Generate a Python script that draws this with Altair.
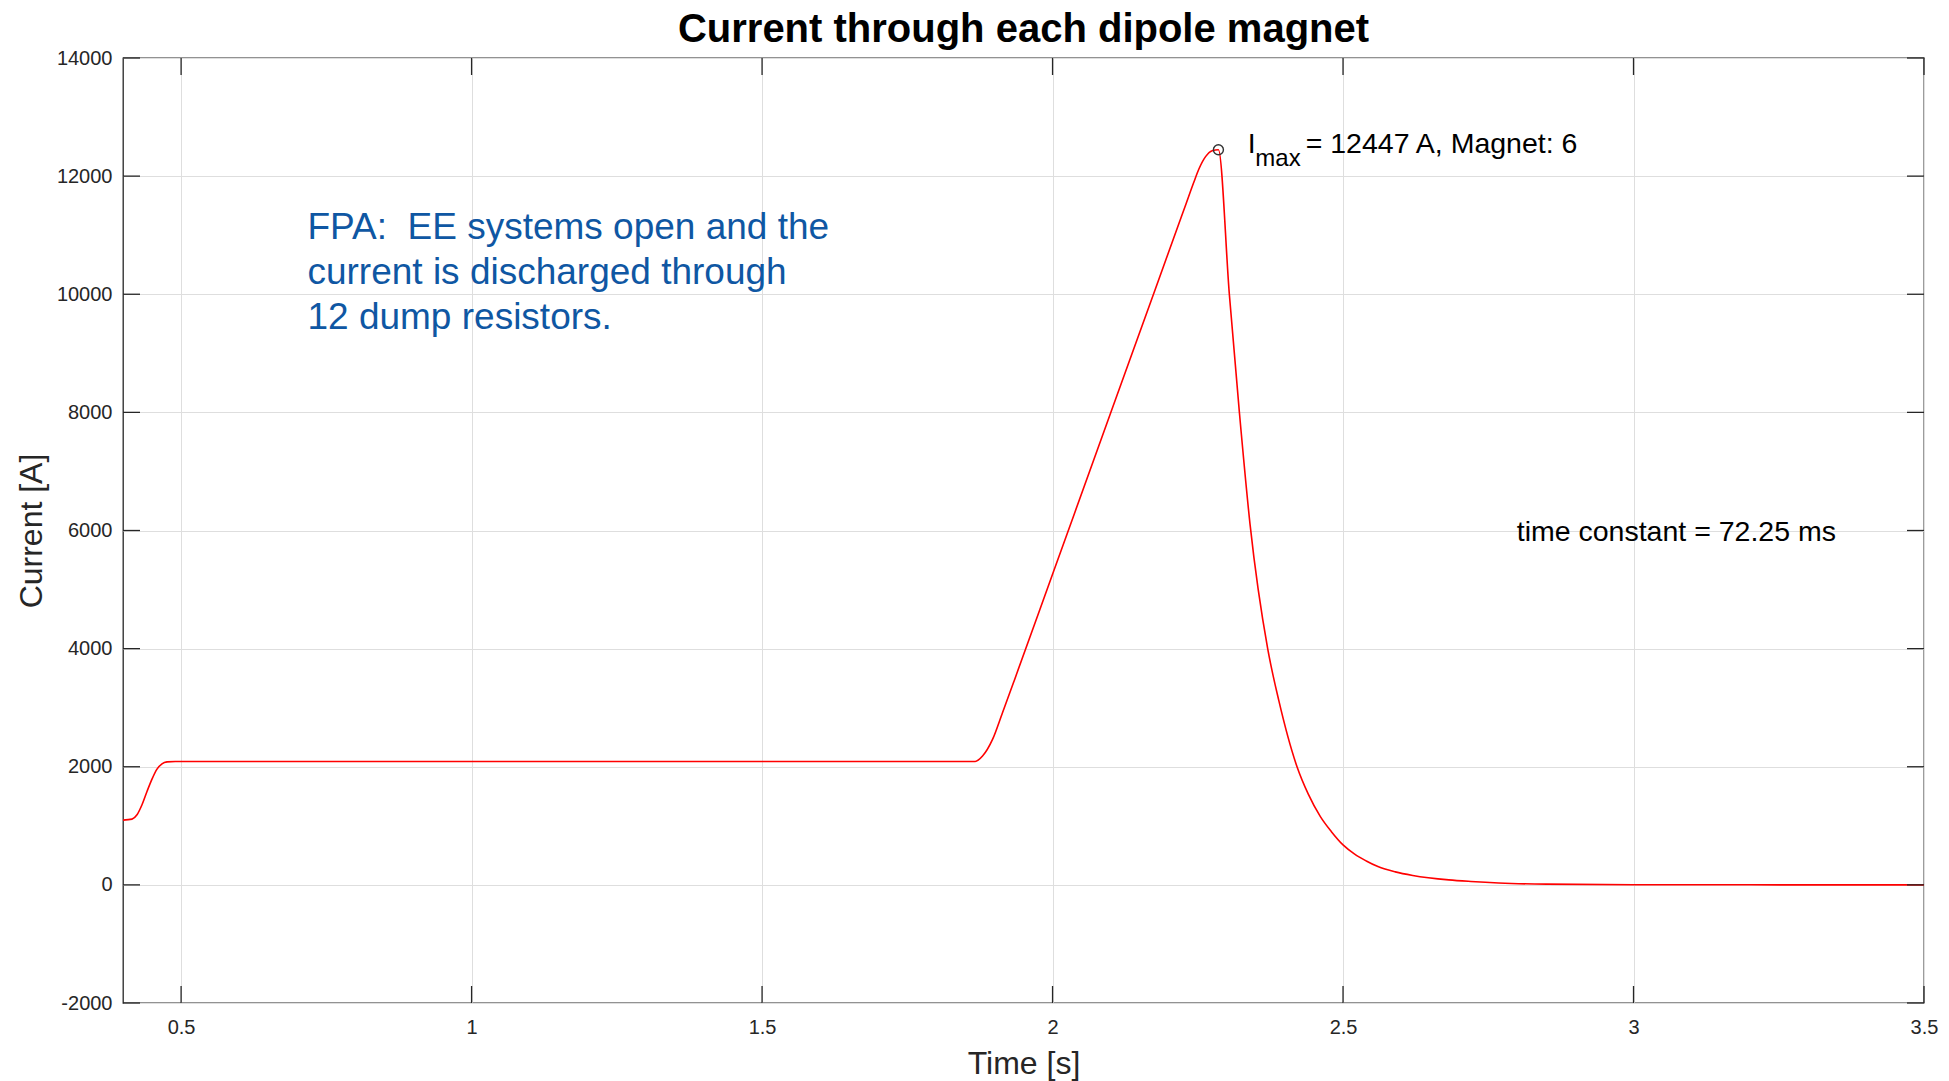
import altair as alt
import pandas as pd

# ---------------- data ----------------
time_s = [0.400, 0.4155, 0.4241, 0.4327, 0.4413, 0.4499, 0.4585, 0.4671, 0.4757, 0.490,
          1.000, 1.500, 1.8669, 1.8795, 1.8967, 1.914, 1.934, 2.000, 2.0998, 2.1773,
          2.2197, 2.2300, 2.2433, 2.2519, 2.2634, 2.2748, 2.2855, 2.3043, 2.3216, 2.3400,
          2.3703, 2.3893, 2.4208, 2.4400, 2.4610, 2.4800, 2.5000, 2.5200, 2.5400, 2.5600,
          2.5900, 2.6200, 2.6820, 2.7200, 2.7680, 2.8500, 3.0000, 3.2000, 3.5000]
current_a = [1096, 1113, 1186, 1356, 1582, 1791, 1960, 2050, 2082, 2090,
             2090, 2090, 2090, 2181, 2463, 2920, 3457, 5259, 7984, 10099,
             11257, 11538, 11900, 12120, 12330, 12430, 12447, 10000, 8000, 6100,
             4000, 3127, 2000, 1540, 1155, 900, 676, 520, 405, 310,
             220, 160, 85, 58, 32, 12, 3, 1, 0]

peak_t = [2.2855]
peak_i = [12447]

x_ticks = [0.5, 1, 1.5, 2, 2.5, 3, 3.5]
y_ticks = [-2000, 0, 2000, 4000, 6000, 8000, 10000, 12000, 14000]

title_text = "Current through each dipole magnet"
x_title = "Time [s]"
y_title = "Current [A]"

imax_main = ["I"]
imax_sub = ["max"]
imax_rest = ["= 12447 A, Magnet: 6"]
tau_text = ["time constant = 72.25 ms"]
fpa_text = ["FPA:\u00a0 EE systems open and the\ncurrent is discharged through\n12 dump resistors."]

# ---------------- layout ----------------
W, H = 1801, 945
TICK = 17
FONT = "Liberation Sans"
AX = "#262626"

x_scale = alt.Scale(domain=[0.4, 3.5], nice=False, zero=False)
y_scale = alt.Scale(domain=[-2000, 14000], nice=False, zero=False)

x_axis = alt.Axis(values=x_ticks, labelExpr="'' + datum.value", grid=True,
                  gridColor="#dedede", gridWidth=1, ticks=False, domain=False,
                  labelFont=FONT, labelFontSize=20, labelColor=AX, labelPadding=14,
                  labelFlush=False, labelOverlap=False,
                  title=x_title, titleFont=FONT, titleFontSize=32,
                  titleFontWeight="normal", titleColor=AX,
                  titleBaseline="alphabetic", titleY=70)
y_axis = alt.Axis(values=y_ticks, labelExpr="'' + datum.value", grid=True,
                  gridColor="#dedede", gridWidth=1, ticks=False, domain=False,
                  labelFont=FONT, labelFontSize=20, labelColor=AX, labelPadding=11,
                  labelFlush=False, labelOverlap=False,
                  title=y_title, titleFont=FONT, titleFontSize=32,
                  titleFontWeight="normal", titleColor=AX,
                  titleBaseline="alphabetic", titleAngle=270, titleX=-82, titleY=H / 2)


def X(field):
    return alt.X(field, type="quantitative", scale=x_scale, axis=x_axis)


def Y(field):
    return alt.Y(field, type="quantitative", scale=y_scale, axis=y_axis)


curve = pd.DataFrame({"t": time_s, "I": current_a})

line = alt.Chart(curve).mark_line(color="#ff0000", strokeWidth=1.6,
                                  interpolate="monotone").encode(x=X("t"), y=Y("I"))

xt = pd.DataFrame({"t": x_ticks})
yt = pd.DataFrame({"I": y_ticks})
rule_style = dict(color=AX, strokeWidth=1.3)

xtick_bottom = alt.Chart(xt).mark_rule(**rule_style).encode(
    x=X("t"), y=alt.value(H), y2=alt.value(H - TICK))
xtick_top = alt.Chart(xt).mark_rule(**rule_style).encode(
    x=X("t"), y=alt.value(0), y2=alt.value(TICK))
ytick_left = alt.Chart(yt).mark_rule(**rule_style).encode(
    y=Y("I"), x=alt.value(0), x2=alt.value(TICK))
ytick_right = alt.Chart(yt).mark_rule(**rule_style).encode(
    y=Y("I"), x=alt.value(W), x2=alt.value(W - TICK))

peak = alt.Chart(pd.DataFrame({"t": peak_t, "I": peak_i})).mark_point(
    shape="circle", filled=False, color="#333333", size=100, strokeWidth=1.4, opacity=1
).encode(x=X("t"), y=Y("I"))


def label(texts, xs, ys, size, color="black", line_height=None):
    kw = dict(align="left", baseline="alphabetic", font=FONT, fontSize=size, color=color)
    if line_height:
        kw["lineBreak"] = "\n"
        kw["lineHeight"] = line_height
    return alt.Chart(pd.DataFrame({"txt": texts, "t": xs, "I": ys})).mark_text(**kw).encode(
        x=X("t"), y=Y("I"), text="txt:N",
    )


t_imax = label(imax_main, [2.3358], [12384], 28.5)
t_sub = label(imax_sub, [2.349], [12164], 24)
t_rest = label(imax_rest, [2.4357], [12384], 28.5)
t_tau = label(tau_text, [2.799], [5820], 28.5)
t_fpa = label(fpa_text, [0.7175], [10928], 37, color="#0f57a3", line_height=44.6)

chart = alt.layer(
    line, xtick_bottom, xtick_top, ytick_left, ytick_right, peak,
    t_imax, t_sub, t_rest, t_tau, t_fpa,
).properties(
    width=W, height=H,
    title=alt.TitleParams(text=title_text, font=FONT, fontSize=40, fontWeight="bold",
                          color="black", anchor="middle", frame="group",
                          baseline="alphabetic", offset=8, dy=42),
    autosize=alt.AutoSizeParams(type="none"),
    padding={"left": 123, "top": 58, "right": 25, "bottom": 78},
    background="white",
).configure_view(
    stroke=AX, strokeWidth=1.3
)

chart.save("out.html", embed_options={"renderer": "svg", "actions": False})
